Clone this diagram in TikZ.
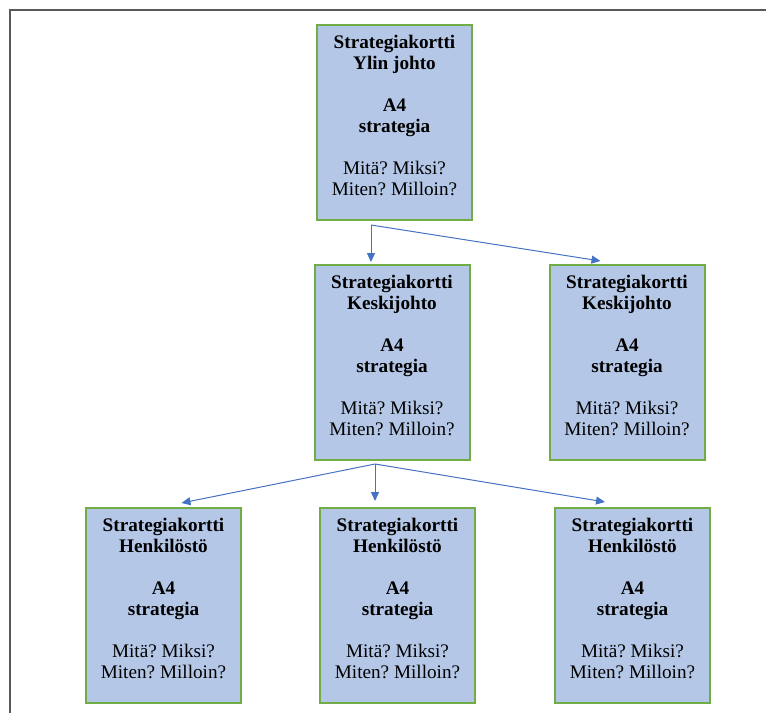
\documentclass[tikz,border=0pt]{standalone}
\usepackage{fontspec}
\setmainfont{Liberation Serif}
\usetikzlibrary{arrows.meta,positioning}

\definecolor{cardfill}{HTML}{B4C7E7}
\definecolor{cardline}{HTML}{70AD47}
\definecolor{arrowblue}{HTML}{4472C4}

\frenchspacing
\newcommand{\kortti}[1]{\textbf{Strategiakortti}\\\textbf{#1}\\[21pt]\textbf{A4}\\\textbf{strategia}\\[21pt]Mitä? Miksi?\\Miten? Milloin?}

\begin{document}
\begin{tikzpicture}[
    x=1pt, y=-1pt,
    card/.style={draw=cardline, fill=cardfill, line width=2pt, rectangle, align=center,
                 minimum width=155pt, minimum height=195pt, outer sep=0pt,
                 font=\fontsize{19.2}{21}\selectfont, text depth=14pt},
    arrow/.style={-{Triangle[length=9pt,width=8pt]}, arrowblue, line width=1pt}
]
\useasboundingbox (0,0) rectangle (766,713);
\draw[gray!70!black, line width=1.3pt] (766,10) -- (10,10) -- (10,713);

\node[card] (ylin) at (394.5,122.5) {\kortti{Ylin johto}};
\node[card, below=45pt of ylin, xshift=-2.5pt] (keskiA) {\kortti{Keskijohto}};
\node[card, right=80pt of keskiA] (keskiB) {\kortti{Keskijohto}};
\node[card, below=48pt of keskiA, xshift=5.5pt] (henkB) {\kortti{Henkilöstö}};
\node[card, left=79pt of henkB] (henkA) {\kortti{Henkilöstö}};
\node[card, right=80pt of henkB] (henkC) {\kortti{Henkilöstö}};

% branching points under the cards
\coordinate (haara1) at ([xshift=-23.5pt, yshift=-5pt]ylin.south);
\coordinate (haara2) at ([xshift=-17pt, yshift=-4pt]keskiA.south);

\draw[arrow] (haara1) -- ([xshift=-21pt, yshift=3pt]keskiA.north);
\draw[arrow] (haara1) -- ([xshift=-26.5pt, yshift=4pt]keskiB.north);
\draw[arrow] (haara2) -- ([xshift=18pt, yshift=5pt]henkA.north);
\draw[arrow] (haara2) -- ([xshift=-22.5pt, yshift=7pt]henkB.north);
\draw[arrow] (haara2) -- ([xshift=-27.5pt, yshift=6pt]henkC.north);
\end{tikzpicture}
\end{document}
